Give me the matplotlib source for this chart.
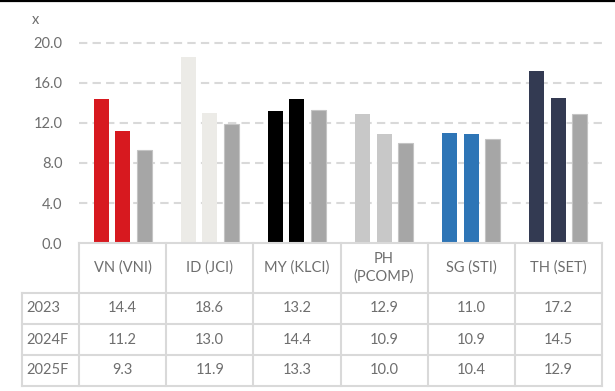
import matplotlib.pyplot as plt
from matplotlib.lines import Line2D
import matplotlib.transforms as mtransforms

markets = ["VN (VNI)", "ID (JCI)", "MY (KLCI)", "PH\n(PCOMP)", "SG (STI)", "TH (SET)"]
years = ["2023", "2024F", "2025F"]
pe_2023 = [14.4, 18.6, 13.2, 12.9, 11.0, 17.2]
pe_2024f = [11.2, 13.0, 14.4, 10.9, 10.9, 14.5]
pe_2025f = [9.3, 11.9, 13.3, 10.0, 10.4, 12.9]
market_colors = ["#d7191f", "#ecebe7", "#000000", "#c8c8c8", "#2e75b6", "#333a52"]
grey_2025 = "#a6a6a6"
y_ticks = [0, 4, 8, 12, 16, 20]

series = [pe_2023, pe_2024f, pe_2025f]

W, H = 615, 391
txt_col = "#6e6e6e"
line_col = "#d9d9d9"
plt.rcParams['font.family'] = ['Lato', 'DejaVu Sans']


def fx(px):
    return px / W


def fy(py):
    return 1 - py / H


fig = plt.figure(figsize=(W / 100, H / 100), dpi=100)
ax = fig.add_axes([fx(79), fy(243), (602 - 79) / W, 205 / H])

offsets = [-0.247, 0, 0.247]
width = 0.172
for j, vals in enumerate(series):
    for i, v in enumerate(vals):
        if j == 2:
            ax.bar(i + 0.5 + offsets[j], v, width, color=grey_2025,
                   edgecolor="#c4c4c4", linewidth=0.8, zorder=3)
        else:
            ax.bar(i + 0.5 + offsets[j], v, width, color=market_colors[i],
                   linewidth=0, zorder=3)

ax.set_xlim(0, len(markets))
ax.set_ylim(0, 20.5)
ax.set_yticks(y_ticks)
ax.set_yticklabels(["%.1f" % t for t in y_ticks], fontsize=10.5, color=txt_col)
ax.tick_params(axis='y', length=0, pad=12)
ax.set_xticks([])
for s in ax.spines.values():
    s.set_visible(False)
for t in y_ticks[1:]:
    ax.axhline(t, color=line_col, lw=1.5, ls=(0, (4, 2.5)), zorder=1)

fig.text(fx(35), fy(20), "x", ha="center", va="center", fontsize=10.5, color=txt_col)

# black rule at top
fig.add_artist(Line2D([0, 1], [fy(0.8), fy(0.8)], color="black", lw=1.6,
                      transform=fig.transFigure))

# table
trans = mtransforms.blended_transform_factory(ax.transData, fig.transFigure)
row_y = [243, 293, 324, 355, 386]
n = len(markets)


def hline(x0, x1, py):
    fig.add_artist(Line2D([fx(x0), fx(x1)], [fy(py), fy(py)], color=line_col,
                          lw=1.5, transform=fig.transFigure))


def vline(px, y0, y1):
    fig.add_artist(Line2D([fx(px), fx(px)], [fy(y0), fy(y1)], color=line_col,
                          lw=1.5, transform=fig.transFigure))


hline(79, 602, row_y[0])
for py in row_y[1:]:
    hline(22, 602, py)
for i in range(n + 1):
    px = 79 + i * (602 - 79) / n
    vline(px, row_y[0], row_y[-1])
vline(22, row_y[1], row_y[-1])

for i, m in enumerate(markets):
    ax.text(i + 0.5, fy((row_y[0] + row_y[1]) / 2), m, transform=trans,
            ha="center", va="center", fontsize=10.5, color=txt_col, linespacing=1.25)
for j, vals in enumerate(series):
    yc = fy((row_y[j + 1] + row_y[j + 2]) / 2)
    fig.text(fx(26), yc, years[j], ha="left", va="center", fontsize=10.5, color=txt_col)
    for i, v in enumerate(vals):
        ax.text(i + 0.5, yc, "%.1f" % v, transform=trans, ha="center",
                va="center", fontsize=10.5, color=txt_col)

fig.savefig("out.png", dpi=100)
